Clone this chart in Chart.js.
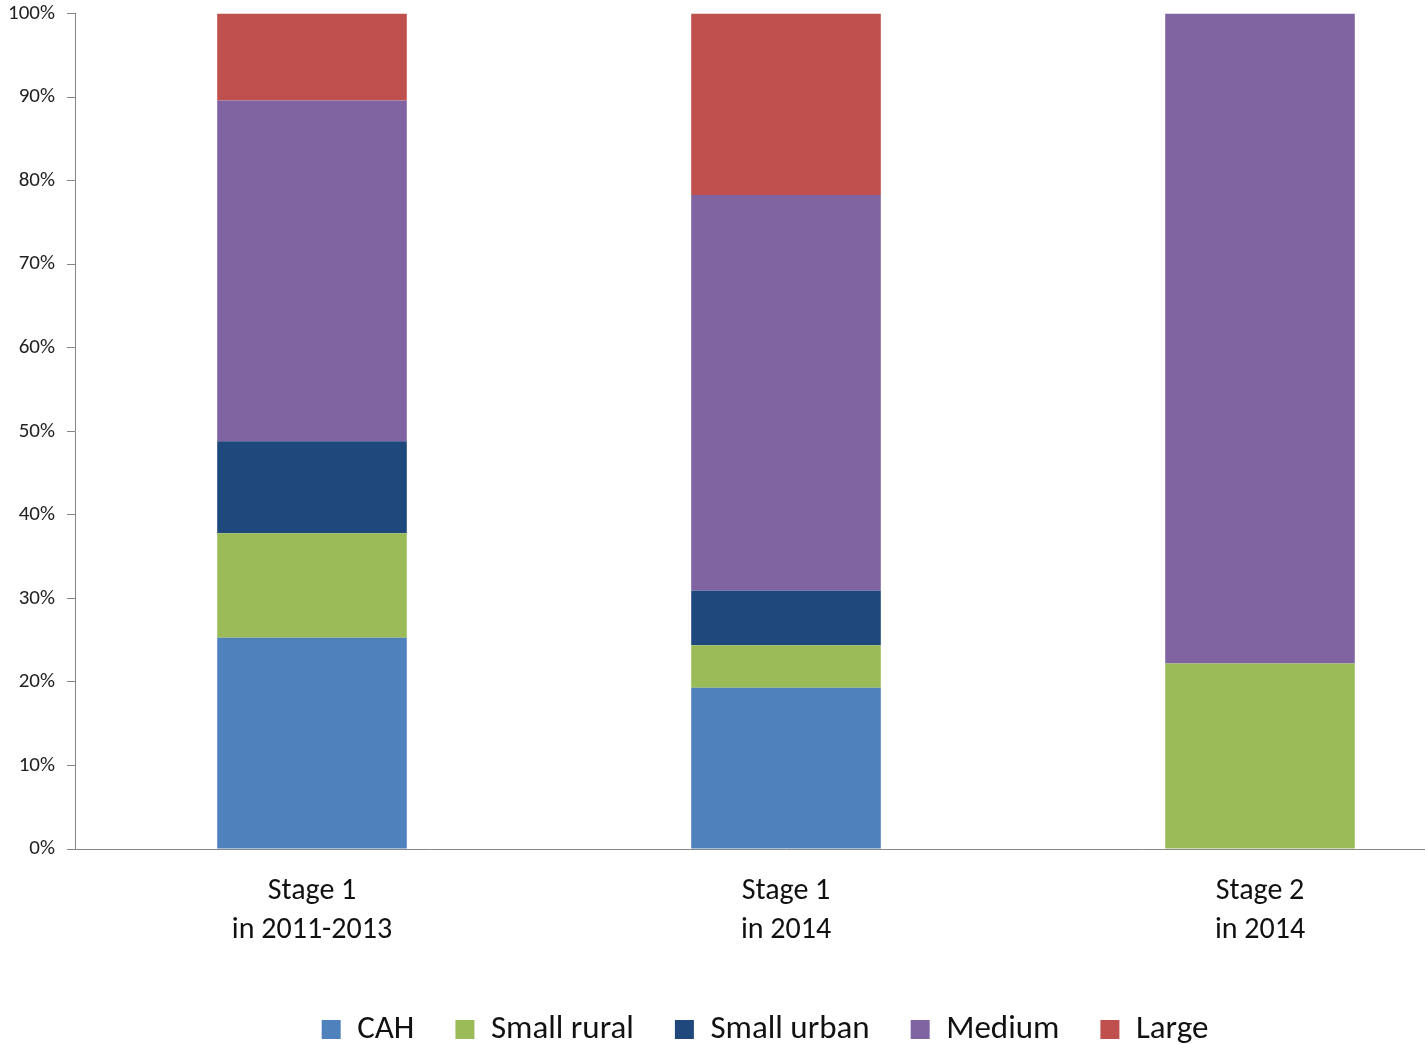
<!DOCTYPE html>
<html>
<head>
<meta charset="utf-8">
<script src="https://cdn.jsdelivr.net/npm/chart.js@4"></script>
<style>
  html, body { margin: 0; padding: 0; background: #fff; overflow: hidden; }
  #wrap { width: 1530px; height: 1067px; margin-top: -11px; }
</style>
</head>
<body>
<div id="wrap"><canvas id="stageChart" width="1530" height="1067"></canvas></div>
<script>
const categories = [['Stage 1', 'in 2011-2013'], ['Stage 1', 'in 2014'], ['Stage 2', 'in 2014']];
const cah = [25.3, 19.3, 0];
const smallRural = [12.5, 5.1, 22.2];
const smallUrban = [11.0, 6.5, 0];
const medium = [40.8, 47.4, 77.8];
const large = [10.4, 21.7, 0];
const yTicks = [0, 10, 20, 30, 40, 50, 60, 70, 80, 90, 100];

const fontFamily = 'Carlito, Calibri, Lato, sans-serif';
const axisGray = '#868686';

const makeSet = (label, data, color) => ({
    label: label,
    data: data,
    backgroundColor: color,
    borderWidth: 0,
    categoryPercentage: 1,
    barPercentage: 0.4,
});

const ctx = document.getElementById('stageChart').getContext('2d');
const stageChart = new Chart(ctx, {
    type: 'bar',
    data: {
        labels: categories,
        datasets: [
            makeSet('CAH', cah, '#4F81BD'),
            makeSet('Small rural', smallRural, '#9BBB59'),
            makeSet('Small urban', smallUrban, '#1F497D'),
            makeSet('Medium', medium, '#8064A2'),
            makeSet('Large', large, '#C0504D'),
        ],
    },
    options: {
        responsive: false,
        animation: false,
        layout: { padding: { top: 3, left: 0, right: 0, bottom: 0 } },
        plugins: {
            tooltip: { enabled: false },
            legend: {
                position: 'bottom',
                labels: {
                    boxWidth: 19,
                    boxHeight: 19,
                    padding: 41,
                    color: '#111',
                    font: { family: fontFamily, size: 33 },
                },
            },
        },
        scales: {
            x: {
                stacked: true,
                grid: { display: false, drawTicks: false },
                border: { display: true, color: axisGray, width: 1 },
                ticks: {
                    color: '#111',
                    padding: 23,
                    font: { family: fontFamily, size: 30, lineHeight: 1.3 },
                },
                afterFit: (s) => { s.height = 123; },
            },
            y: {
                stacked: true,
                min: 0,
                max: 100,
                afterBuildTicks: (s) => { s.ticks = yTicks.map(v => ({ value: v })); },
                grid: { drawOnChartArea: false, drawTicks: true, tickLength: 8, color: axisGray },
                border: { display: true, color: axisGray, width: 1 },
                ticks: {
                    color: '#222',
                    padding: 12,
                    font: { family: fontFamily, size: 21 },
                    callback: (v) => v + '%',
                },
                afterFit: (s) => { s.width = 75; },
            },
            yRight: {
                type: 'linear',
                position: 'right',
                display: true,
                grid: { display: false, drawTicks: false },
                border: { display: false },
                ticks: { display: false },
                afterFit: (s) => { s.width = 33; },
            },
        },
    },
});
</script>
</body>
</html>
